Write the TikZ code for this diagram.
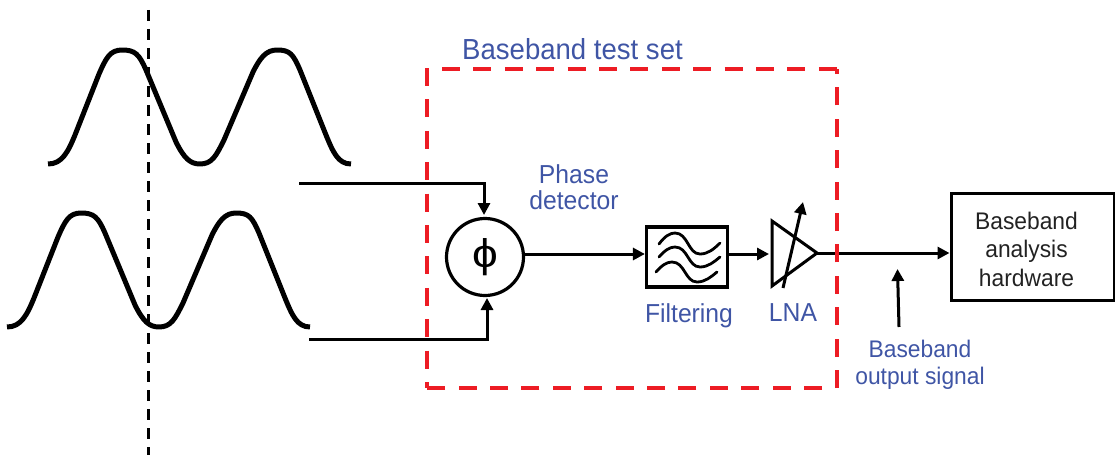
\documentclass[tikz,border=0pt]{standalone}
\usepackage{fontspec}
\setmainfont[FakeStretch=0.95]{Liberation Sans}
\newfontfamily\phifont[FakeStretch=1.15]{Liberation Sans}
\usetikzlibrary{arrows.meta}
\definecolor{lblue}{HTML}{3F55A5}
\definecolor{lred}{HTML}{ED1C24}
\definecolor{ltext}{HTML}{222222}
\newcommand{\wavepath}{(48,164) .. controls (62,164) and (68,152) .. (75,135) -- (99,74) .. controls (106,58) and (110,50) .. (122,50) .. controls (135,50) and (139,54) .. (146,70) -- (176,142) .. controls (184,158) and (190,164) .. (200,164) .. controls (212,164) and (216,156) .. (224,140) -- (253,72) .. controls (260,58) and (266,50) .. (277,50) .. controls (290,50) and (293,54) .. (300,70) -- (326,135) .. controls (333,152) and (338,164) .. (351,164)}
\tikzset{
  x=1pt,y=-1pt,
  wave/.style={line width=5pt,line cap=butt,line join=round},
  conn/.style={line width=3pt,-{Triangle[length=12pt,width=12pt]}},
  lbl/.style={text=lblue,font=\fontsize{26}{26}\selectfont,align=center,inner sep=0pt},
  filtcurve/.style={line width=2.8pt,line cap=round},
  reddash/.style={lred,line width=4.8pt,dash pattern=on 18pt off 13.4pt},
}
\begin{document}
\begin{tikzpicture}
\useasboundingbox (0,0) rectangle (1115,460);
% waves
\draw[wave] \wavepath;
\begin{scope}[shift={(-41,163)}]
\draw[wave] \wavepath;
\end{scope}
\coordinate (dtop) at (148,10);
\coordinate (dbot) at (148,455);
\draw[line width=3pt,dash pattern=on 11pt off 8pt] (dtop) -- (dbot);
% test set
\draw[reddash] (427,68) -- (427,388);
\draw[reddash] (442,69) -- (837,69);
\draw[reddash] (822,388) -- (427,388);
\node[lbl,font=\fontsize{29}{30}\selectfont] (title) at (572.5,49) {Baseband test set};
% detector
\node[circle,draw,line width=3.2pt,minimum size=77pt,inner sep=0pt,font=\phifont\fontsize{40}{40}\selectfont] (phi) at (485,257) {ϕ};
\node[lbl] (phlab) at (574,187) {Phase\\detector};
% filter
\node[draw,line width=3.2pt,minimum width=81pt,minimum height=60pt,inner sep=0pt] (filt) at (687,257) {};
\draw[filtcurve] (659,244) .. controls (665,236) and (670,233) .. (675,233) .. controls (688,233) and (688,254) .. (700,254) .. controls (708,254) and (714,249) .. (720,243);
\draw[filtcurve] (659,257) .. controls (665,250) and (670,247) .. (675,247) .. controls (688,247) and (688,267) .. (700,267) .. controls (708,267) and (714,262) .. (720,257);
\draw[filtcurve] (656,272) .. controls (662,265) and (667,262) .. (672,262) .. controls (685,262) and (685,282) .. (697,282) .. controls (705,282) and (711,277) .. (717,272);
\node[lbl] (filtlab) at (689,316) {Filtering};
% amp
\coordinate (ampa) at (772,221);
\coordinate (ampb) at (772,286);
\coordinate (amptip) at (817,253);
\coordinate (ampin) at (769,254);
\coordinate (gainfrom) at (783,288);
\coordinate (gainto) at (803,202);
\draw[line width=3pt,line join=miter] (ampa) -- (amptip) -- (ampb) -- cycle;
\draw[conn] (gainfrom) -- (gainto);
\node[lbl] (lnalab) at (793,313) {LNA};
% analysis box
\node[draw,line width=3pt,minimum width=163pt,minimum height=107pt,inner sep=0pt] (hw) at (1032.5,246.5) {};
\node[text=ltext,font=\fontsize{24}{28.5}\selectfont,align=center,inner sep=0pt] (hwlab) at (1026.5,249) {Baseband\\analysis\\hardware};
% connectors
\coordinate (inone) at (299,183);
\coordinate (intwo) at (309,339);
\draw[conn] (inone) -- (484,183) -- (484,215);
\draw[conn] (intwo) -- (487,339) -- (487,298);
\draw[conn] (phi.east |- 0,254) -- (filt.west |- 0,254);
\draw[conn] (filt.east |- 0,254) -- (ampin);
\draw[conn] (amptip) -- (hw.west |- amptip);
\draw[reddash] (837,388) -- (837,69);
% output signal
\coordinate (outfrom) at (899,327);
\coordinate (outto) at (897.5,269);
\draw[conn] (outfrom) -- (outto);
\node[lbl,font=\fontsize{24}{27}\selectfont] (outlab) at (920,365) {Baseband\\output signal};
\end{tikzpicture}
\end{document}
